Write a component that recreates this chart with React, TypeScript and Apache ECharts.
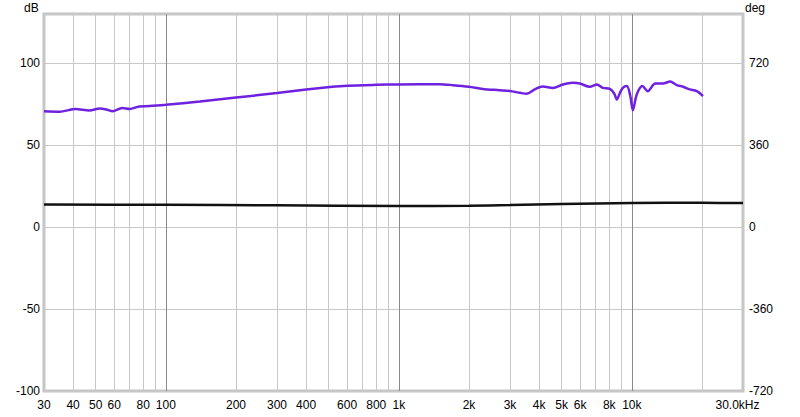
import React, { useEffect, useRef } from "react";
import * as echarts from "echarts";

// Frequency grid (Hz)
const GRID_MINOR_FREQ = [40, 50, 60, 70, 80, 90, 200, 300, 400, 500, 600, 700, 800, 900, 2000, 3000, 4000, 5000, 6000, 7000, 8000, 9000, 20000];
const GRID_MAJOR_FREQ = [100, 1000, 10000];
const LABEL_FREQ = [30, 40, 50, 60, 80, 100, 200, 300, 400, 600, 800, 1000, 2000, 3000, 4000, 5000, 6000, 8000, 10000, 30000];

// Purple trace (SPL, dB)
const SPL_FREQ = [30, 35, 41, 47, 52, 56, 59, 65, 70, 77, 85, 100, 140, 200, 300, 400, 506, 600, 800, 1000, 1500, 1710, 2000, 2290, 2700, 3000, 3310, 3540, 3830, 4150, 4580, 5060, 5580, 5980, 6600, 7080, 7510, 8050, 8400, 8620, 8900, 9150, 9520, 9850, 10100, 10500, 11100, 11700, 12600, 13600, 14600, 15600, 16600, 17700, 19000, 20200];
const SPL_DB = [70.7, 70.4, 72.0, 71.1, 72.3, 71.6, 70.7, 72.7, 72.1, 73.6, 73.8, 74.6, 76.6, 79.0, 81.8, 84.0, 85.5, 86.3, 86.8, 87.0, 87.2, 86.6, 85.6, 84.3, 83.5, 83.0, 81.9, 81.3, 84.0, 85.8, 84.9, 87.0, 88.0, 87.6, 85.6, 87.0, 84.9, 84.3, 81.5, 77.8, 82.0, 84.9, 86.0, 80.0, 71.3, 80.9, 86.0, 82.9, 87.6, 87.6, 88.8, 86.6, 85.6, 84.0, 82.9, 79.9];

// Black trace (dB)
const LOW_FREQ = [30, 100, 300, 1000, 2000, 3000, 5000, 10000, 20000, 30000];
const LOW_DB = [13.8, 13.6, 13.3, 12.9, 13.0, 13.4, 14.1, 14.7, 14.8, 14.7];

// Left / right axis ticks
const DB_MIN = -100;
const DB_MAX = 130;
const DB_STEP = 50;
const DEG_PER_DB = 7.2;

const FONT = "Liberation Sans";

function freqLabel(f: number): string {
  if (f === 30000) return "{end|30.0kHz}";
  if (f >= 1000) return f / 1000 + "k";
  return String(f);
}

export default function App() {
  const ref = useRef<HTMLDivElement>(null);

  useEffect(() => {
    if (!ref.current) return;
    const chart = echarts.init(ref.current, null, { renderer: "svg" });
    const labelStyle = { color: "#000", fontFamily: FONT, fontSize: 12 };
    chart.setOption({
      animation: false,
      backgroundColor: "#fff",
      grid: {
        left: 44,
        right: 57,
        top: 14,
        bottom: 26,
        show: true,
        borderColor: "#c4c4c4",
        borderWidth: 3,
        backgroundColor: "transparent",
      },
      graphic: [
        { type: "text", left: 24, top: 2, style: { text: "dB", fill: "#000", font: `12px "${FONT}"` } },
        { type: "text", left: 745, top: 2, style: { text: "deg", fill: "#000", font: `12px "${FONT}"` } },
      ],
      xAxis: [
        {
          type: "log",
          logBase: 10,
          min: 30,
          max: 30000,
          axisLine: { show: false },
          axisTick: { show: false, customValues: [30, ...GRID_MINOR_FREQ, 30000] },
          axisLabel: {
            ...labelStyle,
            margin: 8,
            customValues: LABEL_FREQ,
            formatter: (v: number) => freqLabel(Math.round(v)),
            rich: {
              end: { ...labelStyle, padding: [0, 11, 0, 0] },
            },
          },
          splitLine: { show: true, lineStyle: { color: "#c8c8c8", width: 1 } },
        },
        {
          type: "log",
          logBase: 10,
          min: 30,
          max: 30000,
          position: "bottom",
          axisLine: { show: false },
          axisTick: { show: false, customValues: GRID_MAJOR_FREQ },
          axisLabel: { show: false },
          splitLine: { show: true, lineStyle: { color: "#8a8a8a", width: 1 } },
        },
      ],
      yAxis: [
        {
          type: "value",
          min: DB_MIN,
          max: DB_MAX,
          interval: DB_STEP,
          axisLine: { show: false },
          axisTick: { show: false },
          axisLabel: { ...labelStyle, margin: 4, showMaxLabel: false },
          splitLine: { show: true, lineStyle: { color: "#c8c8c8", width: 1 } },
        },
        {
          type: "value",
          position: "right",
          min: DB_MIN * DEG_PER_DB,
          max: DB_MAX * DEG_PER_DB,
          interval: DB_STEP * DEG_PER_DB,
          axisLine: { show: false },
          axisTick: { show: false },
          axisLabel: { ...labelStyle, margin: 6, showMaxLabel: false },
          splitLine: { show: false },
        },
      ],
      series: [
        {
          type: "line",
          name: "low",
          xAxisIndex: 0,
          yAxisIndex: 0,
          data: LOW_FREQ.map((f, i) => [f, LOW_DB[i]]),
          showSymbol: false,
          smooth: 0.3,
          lineStyle: { color: "#111", width: 2.5 },
          z: 3,
        },
        {
          type: "line",
          name: "spl",
          xAxisIndex: 0,
          yAxisIndex: 0,
          data: SPL_FREQ.map((f, i) => [f, SPL_DB[i]]),
          showSymbol: false,
          smooth: 0.3,
          lineStyle: { color: "#6e22e0", width: 2.5 },
          z: 4,
        },
      ],
    });
    return () => chart.dispose();
  }, []);

  return (
    <div
      ref={ref}
      style={{ position: "absolute", left: 0, top: 0, width: 800, height: 417, background: "#fff" }}
    />
  );
}
